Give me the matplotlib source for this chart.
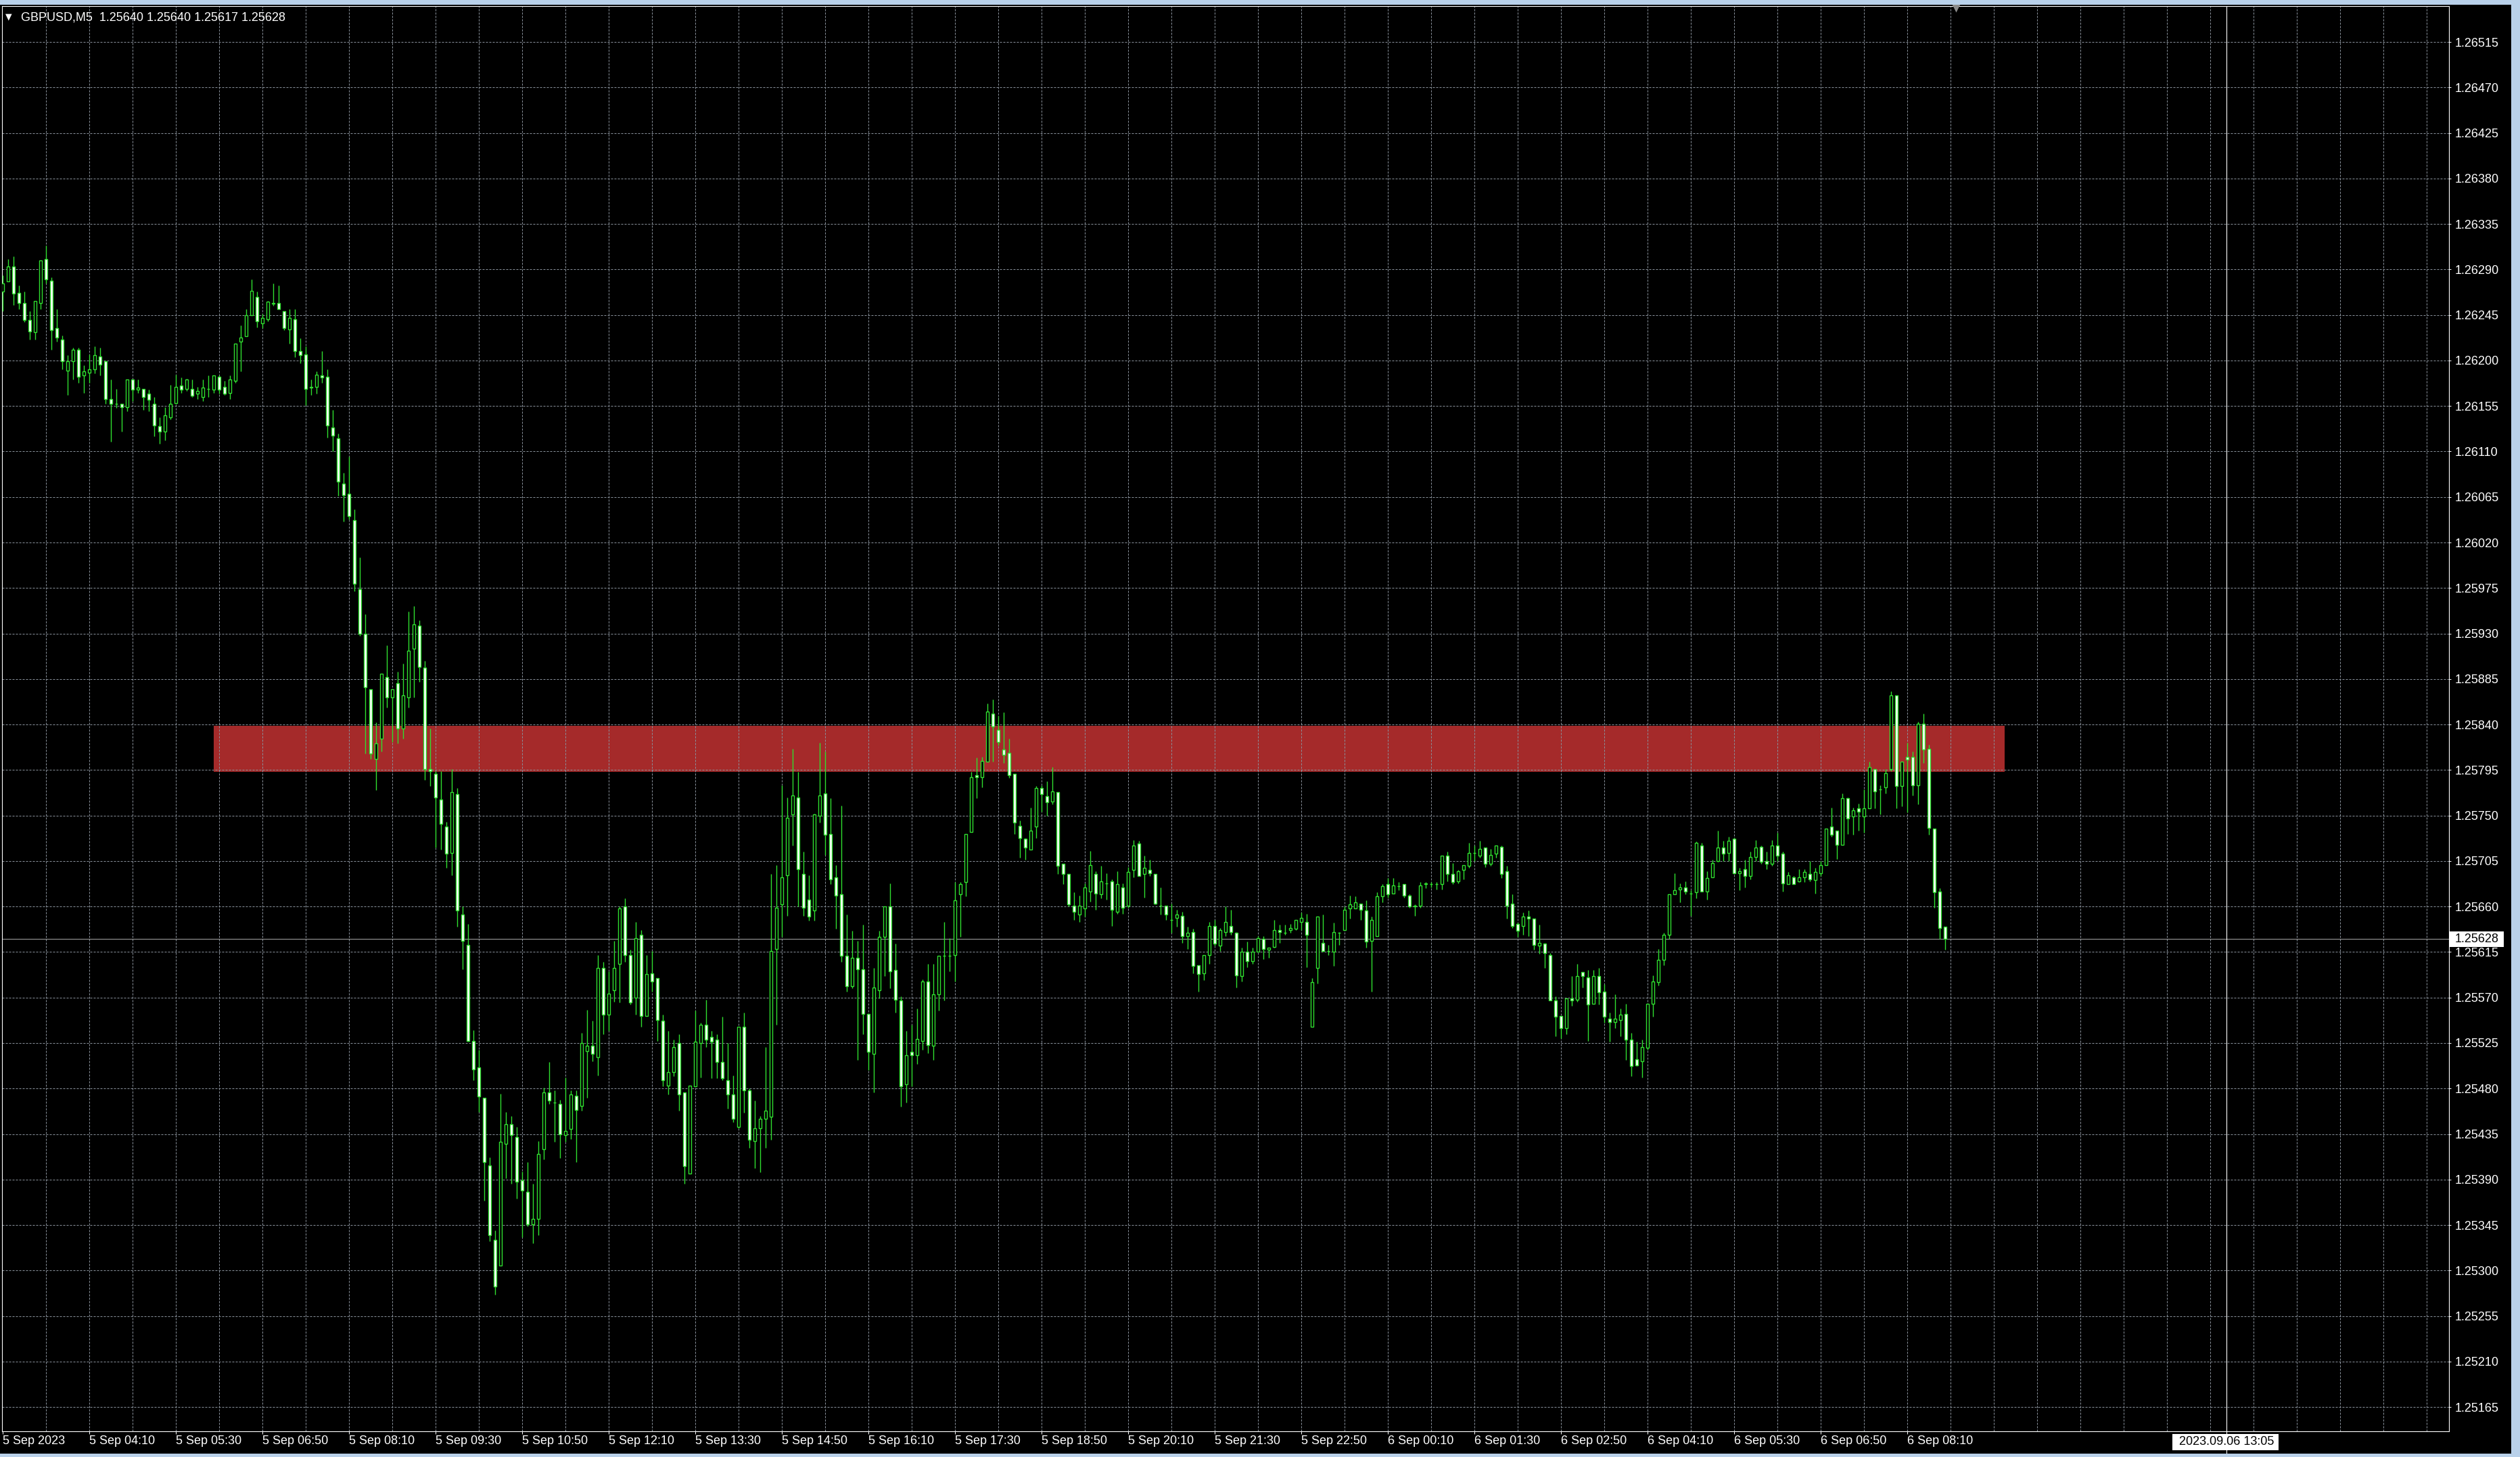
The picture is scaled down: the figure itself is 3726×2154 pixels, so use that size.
import datetime

import numpy as np
import matplotlib
matplotlib.use('Agg')
import matplotlib.pyplot as plt
from matplotlib.patches import Rectangle
from matplotlib.transforms import blended_transform_factory

W, H, DPI = 3726, 2154, 100

### DATA
symbol = 'GBPUSD,M5'
first_bar = datetime.datetime(2023, 9, 5, 2, 50)
bar_minutes = 5
cursor_time = datetime.datetime(2023, 9, 6, 13, 5)

# OHLC in points (1e-5), 10 bars per row
opens = [
    126268, 126278, 126293, 126267, 126257, 126240, 126228, 126257, 126300, 126279,
    126232, 126221, 126190, 126199, 126211, 126185, 126188, 126191, 126204, 126199,
    126162, 126157, 126157, 126154, 126181, 126171, 126172, 126167, 126157, 126135,
    126130, 126144, 126158, 126175, 126172, 126172, 126167, 126164, 126172, 126171,
    126184, 126174, 126168, 126180, 126219, 126224, 126245, 126263, 126237, 126241,
    126257, 126257, 126249, 126231, 126241, 126209, 126206, 126174, 126174, 126185,
    126184, 126134, 126123, 126078, 126068, 126042, 125974, 125930, 125875, 125806,
    125826, 125887, 125867, 125881, 125836, 125867, 125915, 125938, 125896, 125796,
    125791, 125766, 125739, 125713, 125771, 125652, 125622, 125527, 125501, 125471,
    125404, 125330, 125305, 125425, 125445, 125432, 125389, 125378, 125346, 125351,
    125420, 125476, 125466, 125465, 125434, 125440, 125473, 125463, 125517, 125522,
    125511, 125599, 125553, 125577, 125603, 125660, 125612, 125570, 125632, 125552,
    125594, 125589, 125547, 125483, 125496, 125525, 125476, 125396, 125482, 125525,
    125543, 125531, 125528, 125506, 125488, 125474, 125442, 125541, 125478, 125428,
    125441, 125450, 125452, 125618, 125662, 125691, 125751, 125768, 125692, 125667,
    125656, 125750, 125772, 125732, 125689, 125672, 125611, 125581, 125609, 125598,
    125554, 125514, 125577, 125630, 125660, 125597, 125567, 125484, 125516, 125513,
    125527, 125586, 125522, 125573, 125611, 125611, 125612, 125672, 125684, 125734,
    125790, 125788, 125803, 125851, 125835, 125815, 125812, 125791, 125740, 125727,
    125716, 125739, 125777, 125769, 125764, 125773, 125702, 125692, 125661, 125652,
    125658, 125675, 125692, 125672, 125683, 125685, 125655, 125679, 125661, 125696,
    125722, 125692, 125696, 125692, 125661, 125661, 125647, 125649, 125651, 125631,
    125635, 125602, 125594, 125612, 125641, 125621, 125635, 125641, 125634, 125591,
    125615, 125606, 125615, 125628, 125617, 125620, 125637, 125634, 125637, 125638,
    125645, 125645, 125541, 125599, 125624, 125616, 125615, 125634, 125637, 125658,
    125658, 125663, 125656, 125626, 125631, 125670, 125682, 125673, 125680, 125682,
    125671, 125661, 125661, 125683, 125682, 125682, 125682, 125710, 125692, 125685,
    125696, 125700, 125713, 125710, 125718, 125702, 125712, 125719, 125695, 125663,
    125643, 125641, 125650, 125648, 125621, 125623, 125612, 125567, 125552, 125540,
    125569, 125568, 125595, 125590, 125564, 125591, 125576, 125549, 125546, 125548,
    125554, 125528, 125509, 125507, 125520, 125564, 125585, 125607, 125632, 125672,
    125677, 125679, 125673, 125674, 125720, 125675, 125689, 125705, 125718, 125713,
    125727, 125693, 125697, 125690, 125709, 125719, 125705, 125702, 125720, 125712,
    125682, 125689, 125685, 125689, 125692, 125686, 125693, 125701, 125739, 125735,
    125721, 125767, 125749, 125757, 125749, 125757, 125796, 125776, 125778, 125796,
    125869, 125779, 125808, 125808, 125780, 125841, 125816, 125737, 125675, 125640,
]
highs = [
    126284, 126300, 126303, 126274, 126268, 126249, 126259, 126299, 126314, 126282,
    126251, 126225, 126205, 126213, 126213, 126195, 126206, 126214, 126213, 126200,
    126181, 126172, 126157, 126181, 126181, 126181, 126172, 126171, 126164, 126144,
    126154, 126176, 126186, 126183, 126182, 126181, 126174, 126181, 126185, 126185,
    126185, 126180, 126185, 126217, 126235, 126251, 126280, 126268, 126246, 126259,
    126276, 126274, 126249, 126251, 126251, 126222, 126214, 126181, 126189, 126209,
    126191, 126151, 126128, 126089, 126105, 126053, 126005, 125949, 125875, 125842,
    125890, 125918, 125875, 125892, 125900, 125952, 125957, 125943, 125903, 125836,
    125794, 125794, 125744, 125796, 125777, 125660, 125643, 125538, 125518, 125471,
    125412, 125340, 125475, 125457, 125453, 125442, 125398, 125407, 125386, 125428,
    125481, 125506, 125478, 125469, 125491, 125478, 125478, 125535, 125558, 125547,
    125612, 125605, 125596, 125626, 125660, 125668, 125617, 125645, 125637, 125612,
    125616, 125589, 125553, 125537, 125528, 125534, 125476, 125483, 125557, 125545,
    125568, 125537, 125534, 125551, 125525, 125493, 125541, 125555, 125480, 125468,
    125453, 125521, 125692, 125701, 125780, 125768, 125816, 125793, 125714, 125691,
    125752, 125822, 125813, 125767, 125701, 125760, 125652, 125636, 125626, 125642,
    125554, 125599, 125636, 125660, 125683, 125623, 125571, 125537, 125543, 125559,
    125588, 125603, 125603, 125611, 125645, 125629, 125684, 125684, 125732, 125793,
    125807, 125808, 125861, 125865, 125849, 125852, 125826, 125791, 125745, 125728,
    125758, 125779, 125780, 125784, 125798, 125773, 125702, 125692, 125674, 125671,
    125683, 125715, 125695, 125700, 125693, 125687, 125695, 125683, 125699, 125726,
    125725, 125710, 125706, 125692, 125679, 125661, 125663, 125657, 125655, 125640,
    125638, 125602, 125612, 125645, 125647, 125639, 125660, 125657, 125635, 125619,
    125625, 125619, 125631, 125631, 125619, 125647, 125642, 125642, 125643, 125647,
    125654, 125653, 125589, 125650, 125652, 125622, 125644, 125635, 125660, 125671,
    125670, 125663, 125666, 125650, 125674, 125682, 125688, 125688, 125684, 125682,
    125672, 125662, 125684, 125684, 125684, 125684, 125710, 125714, 125703, 125696,
    125701, 125723, 125720, 125725, 125718, 125717, 125720, 125720, 125700, 125672,
    125644, 125654, 125656, 125648, 125642, 125624, 125614, 125571, 125552, 125569,
    125591, 125603, 125595, 125597, 125597, 125599, 125583, 125555, 125573, 125559,
    125564, 125535, 125526, 125528, 125564, 125592, 125618, 125634, 125672, 125693,
    125683, 125685, 125676, 125724, 125723, 125695, 125706, 125735, 125725, 125729,
    125728, 125698, 125706, 125714, 125726, 125720, 125714, 125726, 125733, 125714,
    125694, 125690, 125697, 125697, 125705, 125698, 125705, 125737, 125758, 125735,
    125772, 125768, 125758, 125762, 125776, 125803, 125796, 125780, 125796, 125873,
    125869, 125803, 125822, 125813, 125843, 125851, 125820, 125737, 125678, 125640,
]
lows = [
    126249, 126278, 126255, 126251, 126238, 126221, 126221, 126251, 126276, 126211,
    126219, 126191, 126166, 126181, 126178, 126168, 126178, 126187, 126185, 126157,
    126120, 126153, 126130, 126150, 126160, 126168, 126151, 126150, 126125, 126118,
    126121, 126142, 126157, 126168, 126170, 126164, 126162, 126160, 126164, 126168,
    126167, 126166, 126162, 126178, 126189, 126224, 126245, 126233, 126232, 126239,
    126254, 126251, 126230, 126217, 126203, 126197, 126156, 126166, 126167, 126178,
    126124, 126110, 126066, 126041, 126043, 125972, 125928, 125811, 125806, 125775,
    125813, 125857, 125823, 125821, 125826, 125857, 125867, 125882, 125785, 125779,
    125718, 125716, 125698, 125691, 125640, 125598, 125526, 125488, 125457, 125369,
    125329, 125276, 125305, 125391, 125386, 125371, 125333, 125344, 125327, 125335,
    125410, 125465, 125427, 125411, 125427, 125430, 125407, 125458, 125471, 125507,
    125493, 125534, 125537, 125566, 125565, 125605, 125563, 125553, 125541, 125552,
    125576, 125527, 125482, 125474, 125492, 125458, 125386, 125396, 125482, 125491,
    125521, 125490, 125490, 125488, 125460, 125447, 125441, 125456, 125421, 125401,
    125397, 125421, 125429, 125543, 125630, 125651, 125720, 125660, 125651, 125646,
    125646, 125743, 125711, 125682, 125638, 125605, 125576, 125579, 125508, 125534,
    125498, 125476, 125569, 125591, 125579, 125555, 125462, 125466, 125482, 125504,
    125518, 125515, 125508, 125557, 125567, 125596, 125586, 125630, 125670, 125734,
    125767, 125778, 125803, 125803, 125819, 125802, 125787, 125732, 125708, 125706,
    125716, 125728, 125754, 125750, 125761, 125692, 125682, 125660, 125647, 125645,
    125650, 125665, 125657, 125668, 125667, 125641, 125653, 125653, 125659, 125689,
    125690, 125669, 125690, 125662, 125652, 125647, 125634, 125640, 125624, 125618,
    125594, 125576, 125587, 125603, 125621, 125616, 125631, 125632, 125580, 125586,
    125600, 125603, 125615, 125608, 125609, 125619, 125624, 125632, 125634, 125637,
    125637, 125600, 125541, 125584, 125615, 125612, 125601, 125622, 125637, 125648,
    125658, 125647, 125619, 125576, 125631, 125664, 125669, 125673, 125676, 125669,
    125659, 125651, 125659, 125678, 125679, 125677, 125677, 125685, 125682, 125683,
    125687, 125698, 125705, 125708, 125699, 125700, 125708, 125688, 125648, 125639,
    125630, 125632, 125631, 125617, 125613, 125599, 125567, 125532, 125530, 125534,
    125562, 125566, 125580, 125527, 125564, 125563, 125545, 125526, 125540, 125532,
    125508, 125492, 125502, 125491, 125518, 125551, 125582, 125602, 125628, 125672,
    125664, 125672, 125651, 125668, 125675, 125667, 125689, 125704, 125705, 125705,
    125692, 125676, 125679, 125687, 125705, 125702, 125697, 125700, 125705, 125675,
    125682, 125682, 125684, 125684, 125685, 125673, 125690, 125701, 125729, 125707,
    125721, 125732, 125731, 125735, 125733, 125757, 125757, 125751, 125772, 125794,
    125757, 125759, 125753, 125770, 125761, 125802, 125731, 125659, 125628, 125617,
]
closes = [
    126276, 126293, 126266, 126257, 126240, 126229, 126259, 126299, 126280, 126230,
    126223, 126199, 126199, 126211, 126184, 126189, 126191, 126205, 126196, 126162,
    126157, 126157, 126154, 126181, 126171, 126173, 126164, 126161, 126136, 126130,
    126146, 126157, 126174, 126171, 126181, 126165, 126170, 126173, 126172, 126185,
    126171, 126167, 126181, 126217, 126223, 126245, 126269, 126239, 126242, 126258,
    126256, 126251, 126232, 126242, 126209, 126205, 126172, 126173, 126186, 126183,
    126136, 126126, 126080, 126067, 126046, 125979, 125930, 125877, 125811, 125821,
    125890, 125867, 125875, 125836, 125869, 125913, 125939, 125897, 125796, 125794,
    125768, 125742, 125712, 125773, 125656, 125626, 125527, 125499, 125472, 125407,
    125335, 125284, 125427, 125445, 125434, 125388, 125379, 125346, 125351, 125415,
    125476, 125468, 125466, 125435, 125438, 125474, 125459, 125525, 125522, 125514,
    125599, 125553, 125574, 125599, 125658, 125612, 125565, 125629, 125552, 125593,
    125586, 125548, 125488, 125496, 125521, 125474, 125403, 125483, 125526, 125543,
    125528, 125526, 125506, 125490, 125474, 125450, 125541, 125478, 125429, 125441,
    125450, 125458, 125616, 125659, 125689, 125748, 125770, 125697, 125659, 125650,
    125751, 125770, 125731, 125687, 125671, 125611, 125581, 125609, 125598, 125554,
    125516, 125580, 125630, 125660, 125596, 125568, 125482, 125513, 125513, 125529,
    125586, 125523, 125573, 125611, 125611, 125611, 125666, 125682, 125732, 125788,
    125788, 125804, 125853, 125838, 125823, 125810, 125790, 125743, 125728, 125718,
    125735, 125777, 125771, 125763, 125774, 125700, 125692, 125662, 125655, 125661,
    125679, 125701, 125673, 125685, 125683, 125657, 125682, 125659, 125694, 125720,
    125690, 125698, 125693, 125663, 125661, 125652, 125647, 125652, 125631, 125634,
    125601, 125593, 125612, 125641, 125623, 125637, 125645, 125635, 125592, 125615,
    125606, 125615, 125629, 125618, 125619, 125637, 125635, 125634, 125639, 125647,
    125649, 125632, 125585, 125650, 125616, 125616, 125635, 125634, 125657, 125662,
    125664, 125657, 125625, 125647, 125670, 125680, 125672, 125681, 125680, 125671,
    125660, 125660, 125681, 125682, 125682, 125682, 125710, 125692, 125684, 125695,
    125701, 125713, 125713, 125717, 125702, 125711, 125720, 125692, 125661, 125641,
    125636, 125650, 125648, 125622, 125624, 125614, 125567, 125551, 125540, 125569,
    125567, 125591, 125591, 125563, 125591, 125575, 125551, 125546, 125549, 125553,
    125528, 125502, 125503, 125521, 125564, 125586, 125607, 125632, 125672, 125676,
    125679, 125675, 125673, 125723, 125675, 125688, 125703, 125718, 125712, 125725,
    125693, 125695, 125690, 125709, 125718, 125704, 125702, 125720, 125710, 125683,
    125691, 125682, 125689, 125694, 125687, 125694, 125701, 125737, 125731, 125721,
    125767, 125747, 125755, 125754, 125757, 125798, 125774, 125776, 125792, 125869,
    125779, 125803, 125805, 125780, 125841, 125815, 125738, 125674, 125639, 125628,
]

time_labels = [
    '5 Sep 2023', '5 Sep 04:10', '5 Sep 05:30', '5 Sep 06:50', '5 Sep 08:10',
    '5 Sep 09:30', '5 Sep 10:50', '5 Sep 12:10', '5 Sep 13:30', '5 Sep 14:50',
    '5 Sep 16:10', '5 Sep 17:30', '5 Sep 18:50', '5 Sep 20:10', '5 Sep 21:30',
    '5 Sep 22:50', '6 Sep 00:10', '6 Sep 01:30', '6 Sep 02:50', '6 Sep 04:10',
    '6 Sep 05:30', '6 Sep 06:50', '6 Sep 08:10',
]
label_step = 16   # bars between time labels
grid_step = 8     # bars between vertical grid lines
price_ticks = 1.25165 + 0.00045 * np.arange(31)

# resistance zone (rectangle object), in bars / price
zone_start, zone_end = 39, 370
zone_lo, zone_hi = 1.25793, 1.25839

### STYLE
GREEN = '#2fe02f'
GRID = '#8a929c'
ZONE = '#a52a2a'
CHROME = '#b9d1ea'
FS = 13
plt.rcParams['font.family'] = ['Liberation Sans', 'DejaVu Sans']

o = np.array(opens) / 1e5
h = np.array(highs) / 1e5
l = np.array(lows) / 1e5
c = np.array(closes) / 1e5
assert len(o) == len(h) == len(l) == len(c), (len(o), len(h), len(l), len(c))
n = len(c)
x = np.arange(n)

fig = plt.figure(figsize=(W / DPI, H / DPI), dpi=DPI, facecolor='black')


def px_rect(x0, y0, x1, y1, **kw):
    """rectangle in pixel coords measured from the top-left corner"""
    r = Rectangle((x0 / W, 1 - y1 / H), (x1 - x0) / W, (y1 - y0) / H,
                  transform=fig.transFigure, **kw)
    fig.add_artist(r)
    return r


# window chrome
px_rect(0, 0, W, 7, fc=CHROME, ec='none')
px_rect(3713, 0, W, H, fc=CHROME, ec='none')
px_rect(0, 2149, W, H, fc=CHROME, ec='none')

ax = fig.add_axes([3 / W, 1 - 2116 / H, 3618 / W, 2107 / H])
ax.set_facecolor('black')
ax.set_xlim(-0.1625, 452.09)
ax.set_ylim(1.251410, 1.265505)
for s in ax.spines.values():
    s.set_color('white')
    s.set_linewidth(0.8)

# grid
for gx in range(grid_step, int(ax.get_xlim()[1]) + 1, grid_step):
    ax.axvline(gx, color=GRID, lw=0.72, ls=(0, (3, 2)), zorder=1)
for p in price_ticks:
    ax.axhline(p, color=GRID, lw=0.72, ls=(0, (3, 2)), zorder=1)

# zone
ax.add_patch(Rectangle((zone_start, zone_lo), zone_end - zone_start, zone_hi - zone_lo,
                       fc=ZONE, ec='none', zorder=0.5))

# bid line
ax.axhline(c[-1], color='#9a9a9a', lw=0.8, zorder=2)

# candles
up = c >= o
ax.vlines(x, l, h, color=GREEN, lw=1.0, zorder=3)
ax.bar(x, np.abs(c - o), width=0.5, bottom=np.minimum(o, c),
       color=np.where(up, 'black', 'white'), edgecolor=GREEN, linewidth=1.0, zorder=4)

# cursor line at a future time
trans = blended_transform_factory(ax.transData, ax.transAxes)
cur = (cursor_time - first_bar).total_seconds() / 60 / bar_minutes
ax.plot([cur, cur], [1, -(2149 - 2116) / 2107], color='white', lw=0.8,
        transform=trans, clip_on=False, zorder=6)

# chart shift marker
ax.plot([n + 1], [0.9985], marker='v', ms=8, color='#8c8c8c', mec='none',
        transform=trans, clip_on=False, zorder=6)

# price axis
ax.yaxis.tick_right()
ax.set_yticks(price_ticks)
ax.set_yticklabels([f'{p:.5f}' for p in price_ticks])
ax.tick_params(axis='y', colors='white', length=2.2, width=0.72, pad=4.3, labelsize=FS)

# time axis
ax.set_xticks(np.arange(len(time_labels)) * label_step)
ax.set_xticklabels(time_labels, ha='left')
ax.tick_params(axis='x', colors='white', length=2.9, width=0.72, pad=1.5, labelsize=FS)

# bid label
_, by = ax.transData.transform((0, c[-1]))
px_rect(3622, H - by - 11.5, 3702, H - by + 11.5, fc='white', ec='none', zorder=5)
fig.text(3630 / W, by / H, f'{c[-1]:.5f}', color='black', ha='left', va='center',
         fontsize=FS, zorder=6)

# cursor time label
cx, _ = ax.transData.transform((cur, 0))
px_rect(cx - 80, 2120, cx + 77, 2144, fc='white', ec='none', zorder=7)
fig.text(cx / W, 1 - 2132 / H, cursor_time.strftime('%Y.%m.%d %H:%M'), color='black',
         ha='center', va='center', fontsize=FS, zorder=8)

# header
fig.text(8 / W, 1 - 25 / H, '\u25bc', family='DejaVu Sans', fontsize=9, color='white',
         va='center')
fig.text(31 / W, 1 - 26 / H, f'{symbol}  {o[-1]:.5f} {h[-1]:.5f} {l[-1]:.5f} {c[-1]:.5f}',
         color='white', fontsize=FS, va='center')

fig.savefig('out.png', dpi=DPI, facecolor='black')
